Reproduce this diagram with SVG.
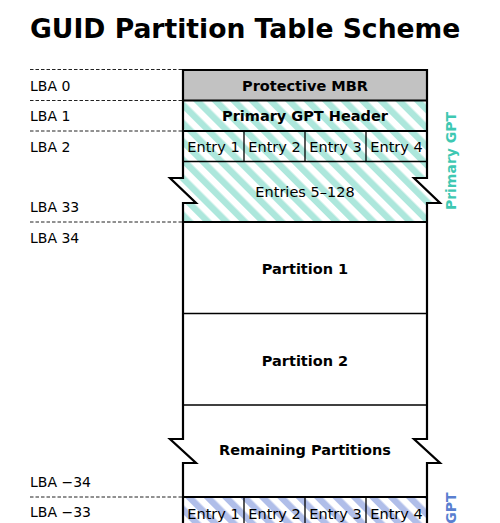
<svg xmlns="http://www.w3.org/2000/svg" width="500" height="523" viewBox="0 0 500 523">
<style>
  text { font-family: "DejaVu Sans", "Liberation Sans", sans-serif; fill: #000; }
  .title { font-size: 26.6px; font-weight: bold; }
  .lba { font-size: 14px; }
  .b { font-size: 14.5px; font-weight: bold; text-anchor: middle; }
  .n { font-size: 14.5px; text-anchor: middle; }
  .side { font-size: 14px; font-weight: bold; }
  .dash { stroke: #222; stroke-width: 1; stroke-dasharray: 3.5 2; fill: none; }
  .thick { stroke: #000; stroke-width: 2.2; fill: none; }
  .mid { stroke: #000; stroke-width: 2; fill: none; }
  .thin { stroke: #000; stroke-width: 1.3; fill: none; }
</style>
<defs>
  <pattern id="teal" patternUnits="userSpaceOnUse" width="13" height="13" patternTransform="rotate(-45)">
    <rect width="13" height="13" fill="#fff"/>
    <rect width="6.5" height="13" fill="#ade7dc"/>
  </pattern>
  <pattern id="blue" patternUnits="userSpaceOnUse" width="13" height="13" patternTransform="rotate(-45)">
    <rect width="13" height="13" fill="#fff"/>
    <rect width="6.5" height="13" fill="#b0bee9"/>
  </pattern>
</defs>
<rect width="500" height="523" fill="#fff"/>
<text class="title" x="30" y="38">GUID Partition Table Scheme</text>

<g id="lba-labels">
  <text class="lba" x="30" y="90.5">LBA 0</text>
  <text class="lba" x="30" y="121">LBA 1</text>
  <text class="lba" x="30" y="151.5">LBA 2</text>
  <text class="lba" x="30" y="212">LBA 33</text>
  <text class="lba" x="30" y="242.5">LBA 34</text>
  <text class="lba" x="30" y="486.5">LBA −34</text>
  <text class="lba" x="30" y="517">LBA −33</text>
</g>

<g id="connectors">
  <line class="dash" x1="30" y1="69.5" x2="183" y2="69.5"/>
  <line class="dash" x1="30" y1="100.5" x2="183" y2="100.5"/>
  <line class="dash" x1="30" y1="131" x2="183" y2="131"/>
  <line class="dash" x1="30" y1="222" x2="183" y2="222"/>
  <line class="dash" x1="30" y1="497" x2="183" y2="497"/>
</g>

<g id="mbr">
  <rect x="183" y="70" width="244" height="30.5" fill="#c2c2c2"/>
  <text class="b" x="305" y="90.5">Protective MBR</text>
</g>

<g id="primary-header">
  <rect x="183" y="100.5" width="244" height="30.5" fill="url(#teal)"/>
  <text class="b" x="305" y="121">Primary GPT Header</text>
</g>

<g id="primary-entries">
  <rect x="183" y="131" width="244" height="30.5" fill="url(#teal)"/>
  <line class="thin" x1="244" y1="131" x2="244" y2="161.5"/>
  <line class="thin" x1="305" y1="131" x2="305" y2="161.5"/>
  <line class="thin" x1="366" y1="131" x2="366" y2="161.5"/>
  <text class="n" x="213.5" y="151.5">Entry 1</text>
  <text class="n" x="274.5" y="151.5">Entry 2</text>
  <text class="n" x="335.5" y="151.5">Entry 3</text>
  <text class="n" x="396.5" y="151.5">Entry 4</text>
</g>

<g id="primary-entries-rest">
  <path d="M183,161.5 H427 V178 H414 L440,203 H427 V222 H183 V203 H196 L170,178 H183 Z" fill="url(#teal)"/>
  <text class="n" x="305" y="197">Entries 5–128</text>
</g>

<g id="partition-1">
  <rect x="183" y="222" width="244" height="91.5" fill="#fff"/>
  <text class="b" x="305" y="273.5">Partition 1</text>
</g>

<g id="partition-2">
  <rect x="183" y="313.5" width="244" height="91.5" fill="#fff"/>
  <text class="b" x="305" y="365.5">Partition 2</text>
</g>

<g id="remaining">
  <path d="M183,405 H427 V439 H414 L440,463 H427 V497 H183 V463 H196 L170,439 H183 Z" fill="#fff"/>
  <text class="b" x="305" y="455">Remaining Partitions</text>
</g>

<g id="secondary-entries">
  <rect x="183" y="497" width="244" height="30.5" fill="url(#blue)"/>
  <line class="thin" x1="244" y1="497" x2="244" y2="530"/>
  <line class="thin" x1="305" y1="497" x2="305" y2="530"/>
  <line class="thin" x1="366" y1="497" x2="366" y2="530"/>
  <text class="n" x="213.5" y="518.5">Entry 1</text>
  <text class="n" x="274.5" y="518.5">Entry 2</text>
  <text class="n" x="335.5" y="518.5">Entry 3</text>
  <text class="n" x="396.5" y="518.5">Entry 4</text>
</g>

<g id="outline">
  <line class="mid" x1="183" y1="100.5" x2="427" y2="100.5"/>
  <line class="mid" x1="183" y1="131" x2="427" y2="131"/>
  <line class="thin" x1="183" y1="161.5" x2="427" y2="161.5"/>
  <line class="mid" x1="183" y1="222" x2="427" y2="222"/>
  <line class="thin" x1="183" y1="313.5" x2="427" y2="313.5"/>
  <line class="thin" x1="183" y1="405" x2="427" y2="405"/>
  <line class="mid" x1="183" y1="497" x2="427" y2="497"/>
  <path class="thick" d="M183,530 V463 H196 L170,439 H183 V203 H196 L170,178 H183 V70 H427 V178 H414 L440,203 H427 V439 H414 L440,463 H427 V530"/>
</g>

<g id="primary-gpt-label">
  <text class="side" transform="translate(456,161) rotate(-90)" text-anchor="middle" style="fill:#3ec8b2">Primary GPT</text>
</g>
<g id="secondary-gpt-label">
  <text class="side" transform="translate(456,492.5) rotate(-90)" text-anchor="end" style="fill:#5a7fd0">GPT</text>
</g>
</svg>
